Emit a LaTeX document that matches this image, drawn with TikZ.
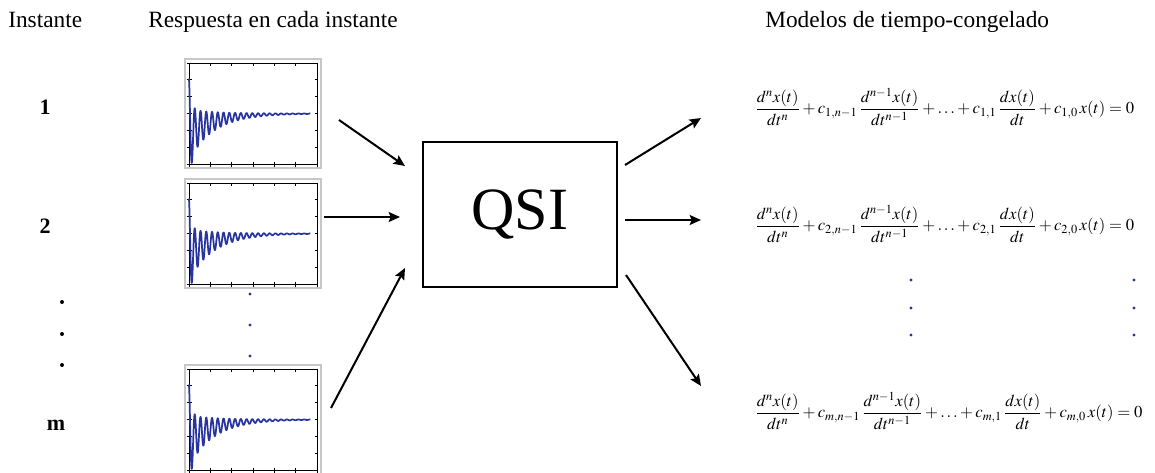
\documentclass[tikz,border=0pt]{standalone}
\usepackage{mathptmx}
\usepackage[no-math]{fontspec}
\setmainfont{Liberation Serif}
\usetikzlibrary{arrows.meta, positioning, calc}
\definecolor{TraceBlue}{RGB}{40,52,160}

\newcommand{\frozenmodel}[1]{$\displaystyle\frac{d^n x(t)}{dt^n}+c_{#1,n-1}\,\frac{d^{n-1}x(t)}{dt^{n-1}}+\ldots+c_{#1,1}\,\frac{dx(t)}{dt}+c_{#1,0}\,x(t)= 0$}

\begin{document}
\begin{tikzpicture}[
    x=0.75pt, y=-0.75pt,
    font=\fontsize{17.5}{20}\selectfont,
    head/.style={anchor=base west, inner sep=0pt},
    idx/.style={inner sep=0pt, font=\fontsize{16.5}{18}\selectfont\bfseries},
    qsibox/.style={draw, line width=2pt, minimum width=145.5pt, minimum height=108.75pt, font=\fontsize{45}{47}\selectfont},
    axisbox/.style={draw, line width=1.1pt, minimum width=96pt, minimum height=75.75pt, inner sep=0pt, anchor=north west},
    plotframe/.style={draw=black!22, line width=0.8pt},
    tick/.style={line width=0.7pt},
    trace/.style={TraceBlue, line width=1.3pt, line join=round},
    model/.style={anchor=west, inner sep=0pt, font=\fontsize{12.5}{14}\selectfont},
    arrow/.style={-{Stealth[length=8.5pt, width=7.5pt, inset=1.5pt]}, line width=1.5pt}
  ]
  \useasboundingbox (0,0) rectangle (1155,472);

  % column headers
  \node[head] (hinst) at (8,27) {Instante};
  \node[head] (hresp) at (148,27) {Respuesta en cada instante};
  \node[head] (hmod) at (765,27) {Modelos de tiempo-congelado};

  % instants
  \node[idx] (k1) at (45,107) {1};
  \node[idx] (k2) at (45,226) {2};
  \node[idx] (km) at (56,425) {m};
  \foreach \yy in {302,334,365}
    \fill (62,\yy) circle (2);

  % responses
  \foreach \ytop [count=\i] in {63,183,369} {
    \draw[plotframe] (185,\ytop-4) rectangle (321,\ytop+105);
    \node[axisbox] (resp\i) at (189,\ytop) {};
    \begin{scope}[shift={(189,\ytop)}]
      \foreach \k in {0,...,6} {
        \draw[tick] ({\k*128/6},98.5) -- ({\k*128/6},103.5);
        \draw[tick] ({\k*128/6},0) -- ({\k*128/6},2.5);
        \draw[tick] (-2.5,{\k*101/6}) -- (2.5,{\k*101/6});
        \draw[tick] (125.5,{\k*101/6}) -- (128,{\k*101/6});
      }
      \draw[trace] plot[domain=0:0.95, samples=420]
        ({128*\x}, {50.5-50*(exp(-5*\x)*(0.5*cos(8000*\x)-0.42)+0.62*exp(-60*\x)*cos(8000*\x))});
    \end{scope}
  }
  \foreach \yy in {294,325,356}
    \fill[TraceBlue] (250,\yy) circle (1.6);

  % QSI block
  \node[qsibox] (qsi) at (520,214.5) {QSI};

  \coordinate (in1s) at (339,120);  \coordinate (in1e) at (405,166);
  \coordinate (in2s) at (324,217);  \coordinate (in2e) at (400,217);
  \coordinate (in3s) at (331,408);  \coordinate (in3e) at (405,268);
  \coordinate (out1s) at (625,165); \coordinate (out1e) at (701,118);
  \coordinate (out2s) at (625,220); \coordinate (out2e) at (701,220);
  \coordinate (out3s) at (626,275); \coordinate (out3e) at (701,386);

  \draw[arrow] (in1s) -- (in1e);
  \draw[arrow] (in2s) -- (in2e);
  \draw[arrow] (in3s) -- (in3e);
  \draw[arrow] (out1s) -- (out1e);
  \draw[arrow] (out2s) -- (out2e);
  \draw[arrow] (out3s) -- (out3e);

  % frozen-time models
  \node[model] (mod1) at (755,107) {\frozenmodel{1}};
  \node[model] (mod2) at (755,224) {\frozenmodel{2}};
  \node[model] (modm) at (755,411) {\frozenmodel{m}};
  \foreach \yy in {280,308,335} {
    \fill[TraceBlue] (911,\yy) circle (1.6);
    \fill[TraceBlue] (1134,\yy) circle (1.6);
  }
\end{tikzpicture}
\end{document}
